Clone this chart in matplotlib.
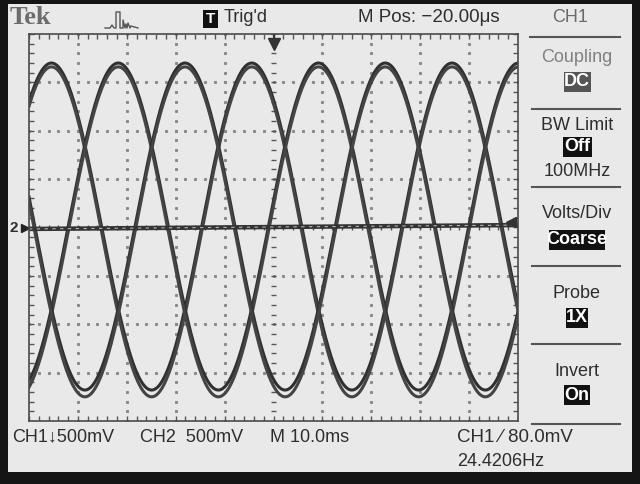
import numpy as np
import matplotlib.pyplot as plt
from matplotlib.patches import Rectangle

# scope settings (10 ms/div, 500 mV/div, 10 x 8 divisions)
x_range = [0, 100]          # ms
y_range = [-2.0, 2.0]       # V
freq_hz = 24.4206

# three traces, time of first peak (ms)
peak_times = [4.6, 18.25, 31.9]
# each trace shows up doubled: amplitude / offset of both copies (V)
trace_amps = [1.69, 1.705]
trace_offsets = [0.01, -0.045]

# flat trace through the middle (V at left and right edge)
flat_trace = [-0.015, 0.025]

top_labels = ["Trig'd", "M Pos: \u221220.00\u03bcs", "CH1"]
bottom_labels = ["CH1\u2193500mV", "CH2  500mV", "M 10.0ms", "CH1 \u2215 80.0mV", "24.4206Hz"]
menu_titles = ["Coupling", "BW Limit", "Volts/Div", "Probe", "Invert"]
menu_values = ["DC", "Off", "Coarse", "1X", "On"]

W, H = 640, 484
BG = '#e9e9e9'
INK = '#2e2e2e'
FONT = ['Liberation Sans', 'DejaVu Sans']


def fx(x):
    return x / W


def fy(y):
    return 1 - y / H


def label(x, y, s, size=13, color=INK, ha='left', **kw):
    fig.text(fx(x), fy(y), s, ha=ha, va='center', fontsize=size,
             color=color, family=kw.pop('family', FONT), **kw)


def boxed(x, y, s, w, fc='#111111', size=13):
    fig.patches.append(Rectangle((fx(x - w / 2), fy(y + 10)), w / W, 20 / H,
                                 transform=fig.transFigure, fc=fc, ec='none', zorder=2))
    label(x, y, s, size=size, color='white', ha='center', weight='bold')


def hline(x0, x1, y, lw=1.5, color='#555555'):
    fig.lines.append(plt.Line2D([fx(x0), fx(x1)], [fy(y), fy(y)],
                                transform=fig.transFigure, color=color, lw=lw))


fig = plt.figure(figsize=(6.4, 4.84), dpi=100, facecolor='#151515')
fig.patches.append(Rectangle((fx(8), fy(472)), 624 / W, 468 / H,
                             transform=fig.transFigure, fc=BG, ec='none', zorder=-10))

ax = fig.add_axes([fx(29), fy(421), 489 / W, 387 / H])
ax.set_facecolor(BG)
ax.set_xlim(x_range)
ax.set_ylim(y_range)
ax.set_xticks([])
ax.set_yticks([])
for sp in ax.spines.values():
    sp.set_color('#4a4a4a')
    sp.set_linewidth(1.2)

# graticule
xdiv = np.arange(x_range[0], x_range[1] + 0.01, 10)
ydiv = np.arange(y_range[0], y_range[1] + 0.01, 0.5)
xsub = np.arange(x_range[0], x_range[1] + 0.01, 2)
ysub = np.arange(y_range[0], y_range[1] + 0.01, 0.1)

for xv in xdiv[1:-1]:
    if xv != 50:
        ax.plot(np.full_like(ysub, xv), ysub, ls='none', marker='s', ms=1.2, color='#8a8a8a')
for yv in ydiv[1:-1]:
    if yv != 0:
        ax.plot(xsub, np.full_like(xsub, yv), ls='none', marker='s', ms=1.2, color='#8a8a8a')

tk_y = 0.05
tk_x = 1.1
ax.vlines(xsub, y_range[0], y_range[0] + tk_y, color='#555555', lw=1)
ax.vlines(xsub, y_range[1] - tk_y, y_range[1], color='#555555', lw=1)
ax.hlines(ysub, x_range[0], x_range[0] + tk_x, color='#555555', lw=1)
ax.hlines(ysub, x_range[1] - tk_x, x_range[1], color='#555555', lw=1)
# centre cross
ax.hlines(ysub, 50 - 0.6, 50 + 0.6, color='#555555', lw=1)
ax.vlines(xsub, -0.03, 0.03, color='#555555', lw=1)

# waveforms
t = np.linspace(x_range[0], x_range[1], 3000)
period = 1000.0 / freq_hz
for p in peak_times:
    for amp, off, col in zip(trace_amps, trace_offsets, ['#303030', '#444444']):
        ax.plot(t, off + amp * np.cos(2 * np.pi * (t - p) / period), color=col, lw=2.2)

ax.plot(x_range, flat_trace, color='#333333', lw=3.2, solid_capstyle='butt')
ax.plot(x_range, flat_trace, color='#b5b5b5', lw=0.8, dashes=(3, 4))

# markers
ax.plot([-0.8], [0.0], marker='>', ms=6, color='#222222', clip_on=False)
ax.plot([98.6], [0.06], marker='<', ms=7, color='#333333', clip_on=False)
ax.plot([50, 50], [2.0, 1.9], color='#333333', lw=1.5)
ax.plot([50], [1.9], marker='v', ms=8, color='#333333')
label(14, 228, '2', size=11, weight='bold', ha='center')

# top bar
label(10, 18, 'Tek', size=19, color='#6c6c6c', weight='bold', family='Liberation Serif')
icon_x = [105, 110, 112, 114, 116, 116, 120, 120, 123, 123, 125, 126, 127, 128, 130, 131, 138]
icon_y = [28, 28, 25, 28, 28, 12, 12, 28, 28, 20, 28, 24, 28, 23, 28, 26, 28]
fig.lines.append(plt.Line2D([fx(v) for v in icon_x], [fy(v) for v in icon_y],
                            transform=fig.transFigure, color='#555555', lw=1))
fig.patches.append(Rectangle((fx(203), fy(28)), 15 / W, 18 / H,
                             transform=fig.transFigure, fc='#111111', ec='none', zorder=2))
label(210.5, 19, 'T', size=11, color='white', ha='center', weight='bold')
label(224, 18, top_labels[0], size=13)
label(358, 17, top_labels[1], size=13.5)
label(570, 17, top_labels[2], size=13, color='#6a6a6a', ha='center')
hline(530, 620, 37)

# side menu
menu_y = [57, 125, 213, 293, 372]
value_y = [82, 147, 240, 318, 395]
value_w = [27, 29, 56, 22, 26]
cx = 577
for i, (title, val) in enumerate(zip(menu_titles, menu_values)):
    label(cx, menu_y[i], title, size=13, color='#808080' if i == 0 else INK, ha='center')
    boxed(cx, value_y[i], val, value_w[i], fc='#555555' if i == 0 else '#111111')
label(cx, 172, '100MHz', size=13, ha='center')
for yv in [109, 187, 266, 344, 424]:
    hline(532, 620, yv)

# bottom bar
label(12, 437, bottom_labels[0], size=13)
label(140, 437, bottom_labels[1], size=13)
label(270, 437, bottom_labels[2], size=13)
label(457, 437, bottom_labels[3], size=13.5)
label(457, 462, bottom_labels[4], size=13)

fig.savefig('out.png', dpi=100, facecolor=fig.get_facecolor())
